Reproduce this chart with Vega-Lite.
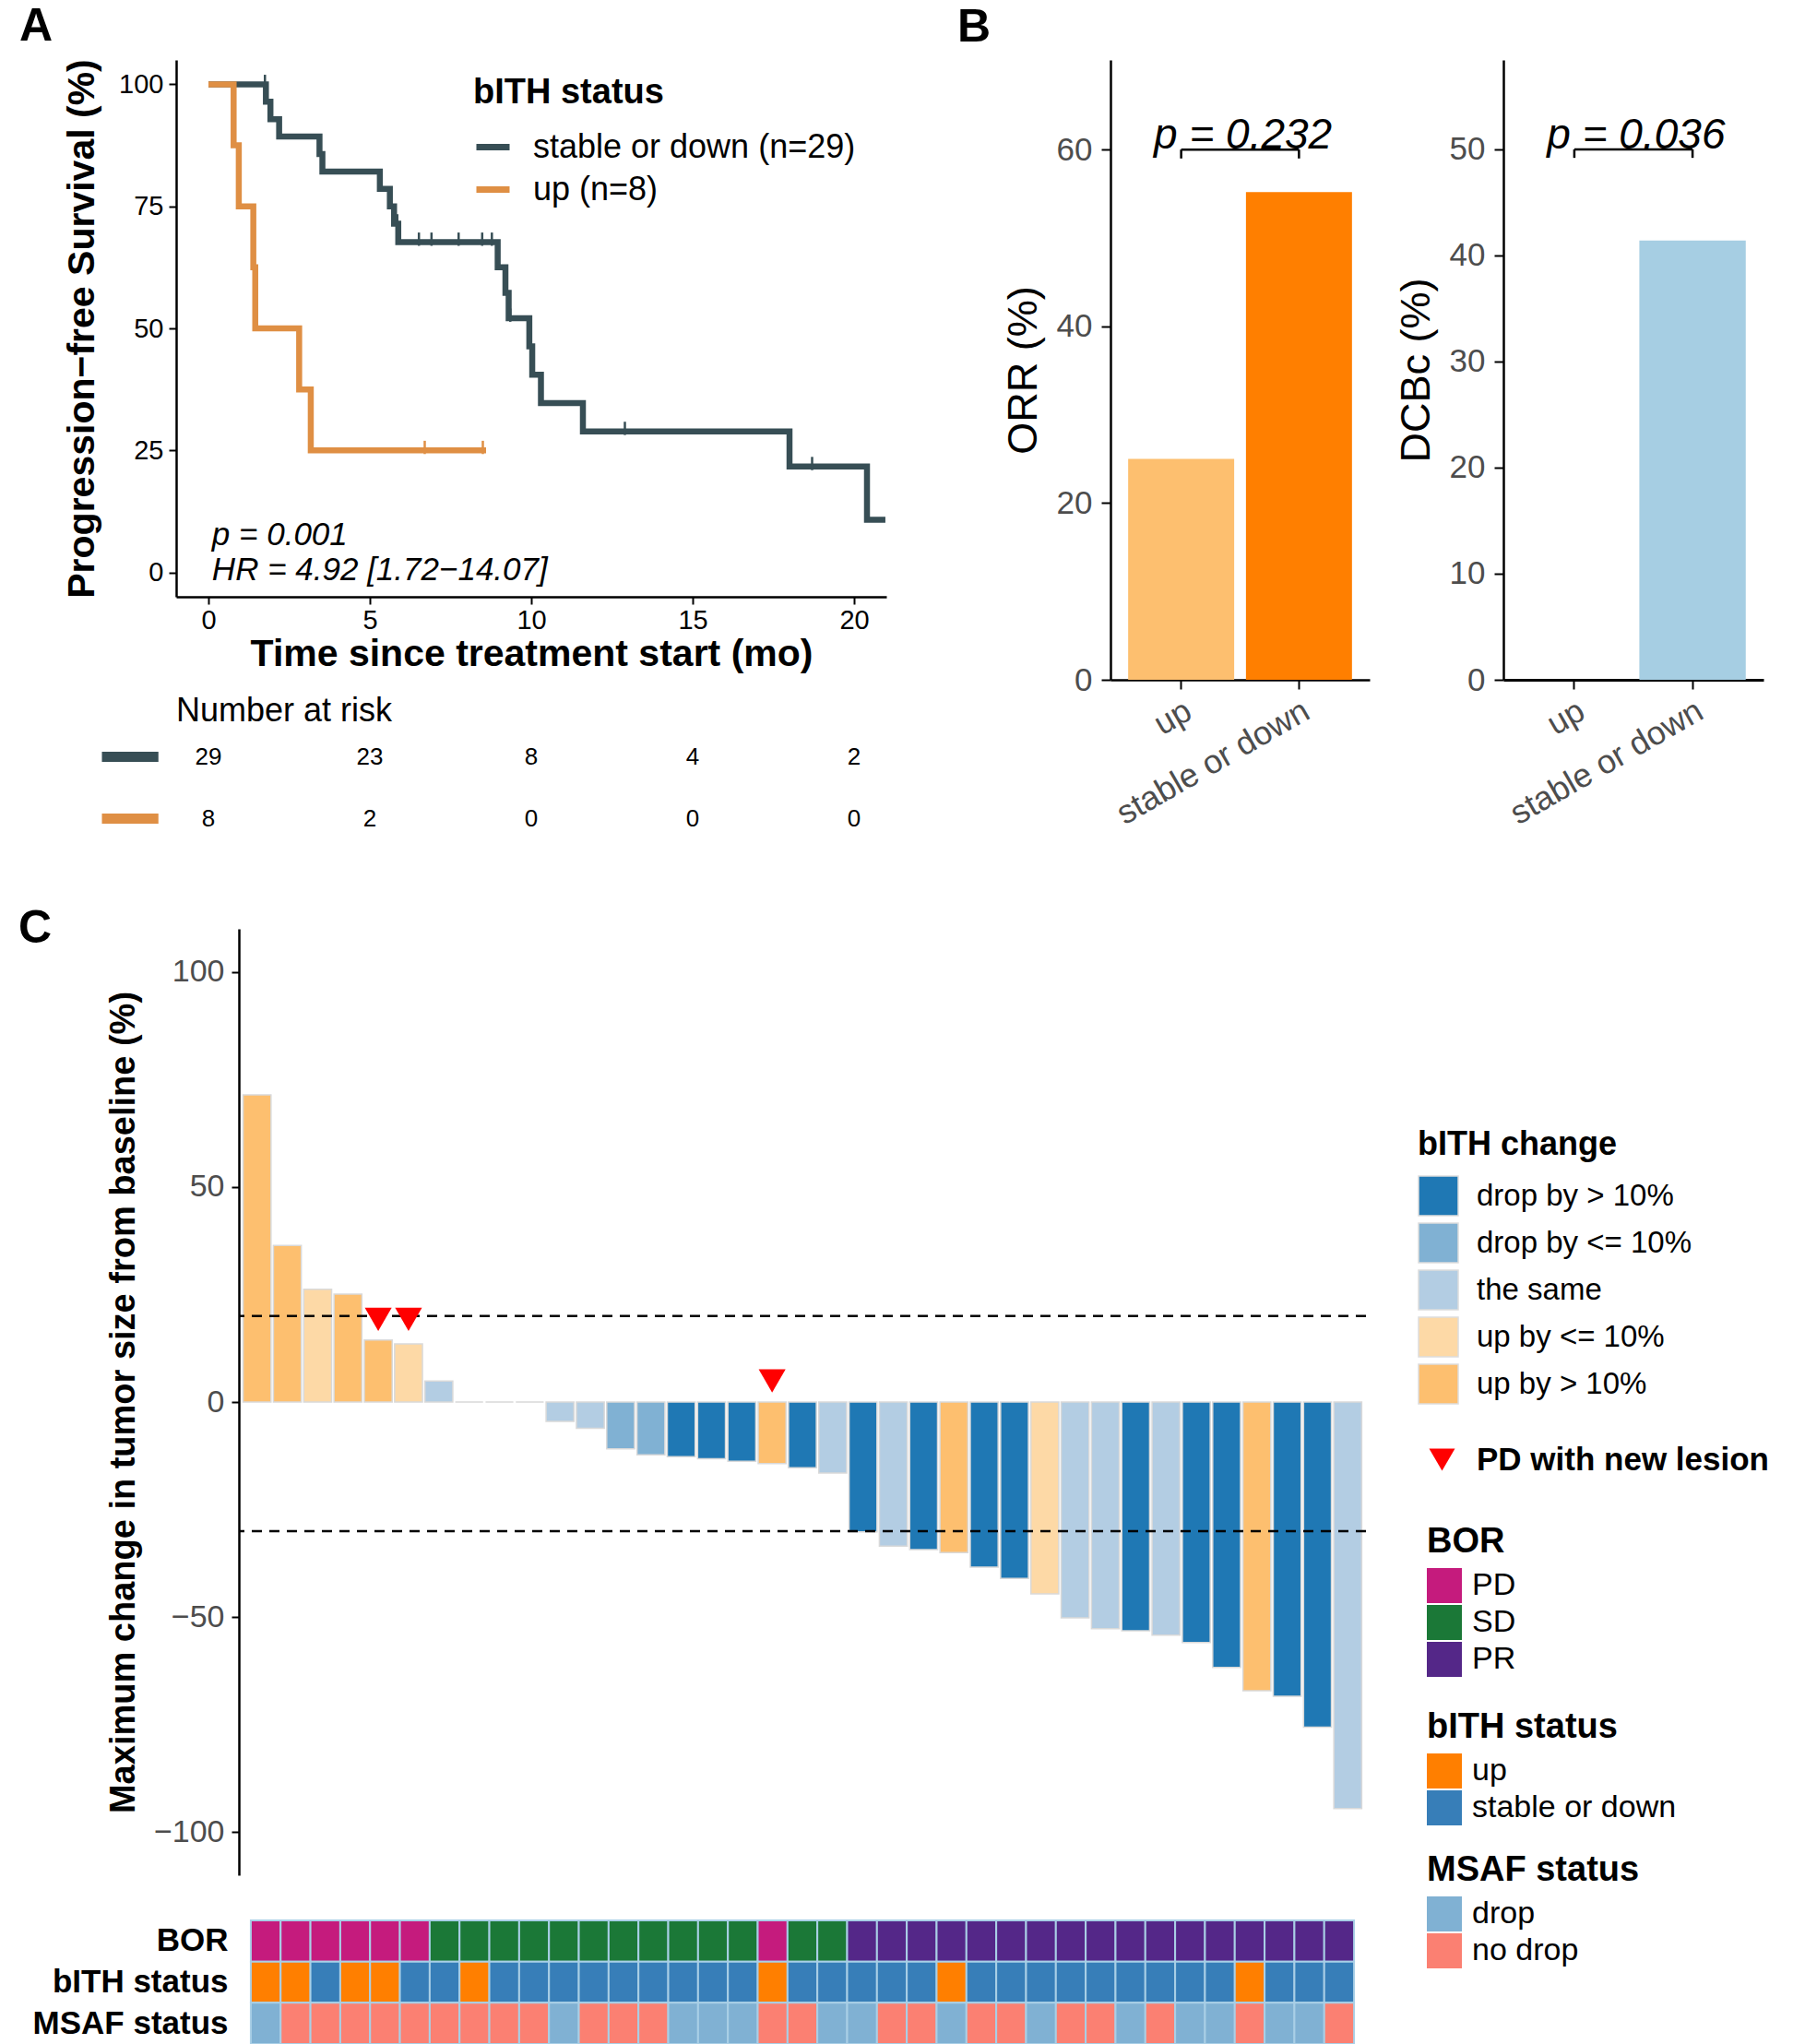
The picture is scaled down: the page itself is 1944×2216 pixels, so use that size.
{
  "$schema": "https://vega.github.io/schema/vega-lite/v6.json",
  "background": "white",
  "padding": {"left": 20, "top": 3, "right": 2, "bottom": 2},
  "config": {
    "font": "Liberation Sans",
    "view": {"stroke": null},
    "axis": {"grid": false, "domainColor": "#000000", "domainWidth": 2.2, "tickColor": "#000000", "tickWidth": 2, "labelColor": "#4D4D4D", "titleColor": "#000000", "titleFontWeight": "normal", "labelFont": "Liberation Sans", "titleFont": "Liberation Sans", "labelLimit": 1000},
    "legend": {"padding": 0, "labelColor": "#000000", "titleColor": "#000000", "labelFont": "Liberation Sans", "titleFont": "Liberation Sans", "labelLimit": 800, "titleLimit": 800},
    "title": {"font": "Liberation Sans", "color": "#000000"}
  },
  "datasets": {
    "km": [
      {"group": "stable or down (n=29)", "time": 0, "surv": 100},
      {"group": "stable or down (n=29)", "time": 1.78, "surv": 96.43},
      {"group": "stable or down (n=29)", "time": 1.92, "surv": 92.86},
      {"group": "stable or down (n=29)", "time": 2.19, "surv": 89.29},
      {"group": "stable or down (n=29)", "time": 3.44, "surv": 85.71},
      {"group": "stable or down (n=29)", "time": 3.53, "surv": 82.14},
      {"group": "stable or down (n=29)", "time": 5.31, "surv": 78.57},
      {"group": "stable or down (n=29)", "time": 5.62, "surv": 75.0},
      {"group": "stable or down (n=29)", "time": 5.75, "surv": 71.43},
      {"group": "stable or down (n=29)", "time": 5.88, "surv": 67.67},
      {"group": "stable or down (n=29)", "time": 8.96, "surv": 62.5},
      {"group": "stable or down (n=29)", "time": 9.2, "surv": 57.3},
      {"group": "stable or down (n=29)", "time": 9.3, "surv": 52.1},
      {"group": "stable or down (n=29)", "time": 9.94, "surv": 46.3},
      {"group": "stable or down (n=29)", "time": 10.03, "surv": 40.5},
      {"group": "stable or down (n=29)", "time": 10.3, "surv": 34.7},
      {"group": "stable or down (n=29)", "time": 11.6, "surv": 28.9},
      {"group": "stable or down (n=29)", "time": 18.0, "surv": 21.7},
      {"group": "stable or down (n=29)", "time": 20.4, "surv": 10.8},
      {"group": "stable or down (n=29)", "time": 20.97, "surv": 10.8},
      {"group": "up (n=8)", "time": 0, "surv": 100},
      {"group": "up (n=8)", "time": 0.78, "surv": 87.5},
      {"group": "up (n=8)", "time": 0.94, "surv": 75},
      {"group": "up (n=8)", "time": 1.39, "surv": 62.5},
      {"group": "up (n=8)", "time": 1.45, "surv": 50},
      {"group": "up (n=8)", "time": 2.81, "surv": 37.5},
      {"group": "up (n=8)", "time": 3.17, "surv": 25},
      {"group": "up (n=8)", "time": 8.6, "surv": 25}
    ],
    "censor": [
      {"group": "stable or down (n=29)", "time": 1.75, "surv": 100},
      {"group": "stable or down (n=29)", "time": 5.85, "surv": 71.43},
      {"group": "stable or down (n=29)", "time": 6.52, "surv": 67.67},
      {"group": "stable or down (n=29)", "time": 6.91, "surv": 67.67},
      {"group": "stable or down (n=29)", "time": 7.75, "surv": 67.67},
      {"group": "stable or down (n=29)", "time": 8.48, "surv": 67.67},
      {"group": "stable or down (n=29)", "time": 8.78, "surv": 67.67},
      {"group": "stable or down (n=29)", "time": 9.35, "surv": 52.1},
      {"group": "stable or down (n=29)", "time": 12.9, "surv": 28.9},
      {"group": "stable or down (n=29)", "time": 18.7, "surv": 21.7},
      {"group": "up (n=8)", "time": 6.7, "surv": 25},
      {"group": "up (n=8)", "time": 8.5, "surv": 25}
    ],
    "risk": [
      {"group": "stable or down (n=29)", "time": 0, "n": 29},
      {"group": "stable or down (n=29)", "time": 5, "n": 23},
      {"group": "stable or down (n=29)", "time": 10, "n": 8},
      {"group": "stable or down (n=29)", "time": 15, "n": 4},
      {"group": "stable or down (n=29)", "time": 20, "n": 2},
      {"group": "up (n=8)", "time": 0, "n": 8},
      {"group": "up (n=8)", "time": 5, "n": 2},
      {"group": "up (n=8)", "time": 10, "n": 0},
      {"group": "up (n=8)", "time": 15, "n": 0},
      {"group": "up (n=8)", "time": 20, "n": 0}
    ],
    "riskgroups": [
      {"group": "stable or down (n=29)"},
      {"group": "up (n=8)"}
    ],
    "orr": [
      {"bith": "up", "value": 25.0},
      {"bith": "stable or down", "value": 55.2}
    ],
    "dcb": [
      {"bith": "up", "value": 0},
      {"bith": "stable or down", "value": 41.4}
    ],
    "orr_test": [{"a": "up", "b": "stable or down", "label": "p = 0.232"}],
    "dcb_test": [{"a": "up", "b": "stable or down", "label": "p = 0.036"}],
    "km_p": [{"label": "p = 0.001"}],
    "km_hr": [{"label": "HR = 4.92 [1.72−14.07]"}],
    "cutoffs": [{"y": 20}, {"y": -30}],
    "lesion": [
      {"id": 5, "y": 19.2, "marker": "PD with new lesion"},
      {"id": 6, "y": 19.2, "marker": "PD with new lesion"},
      {"id": 18, "y": 4.9, "marker": "PD with new lesion"}
    ],
    "patients": [
      {"id": 1, "change": 71.4, "bith_change": "up by > 10%", "BOR": "PD", "bITH status": "up", "MSAF status": "drop"},
      {"id": 2, "change": 36.4, "bith_change": "up by > 10%", "BOR": "PD", "bITH status": "up", "MSAF status": "no drop"},
      {"id": 3, "change": 26.2, "bith_change": "up by <= 10%", "BOR": "PD", "bITH status": "stable or down", "MSAF status": "no drop"},
      {"id": 4, "change": 25.1, "bith_change": "up by > 10%", "BOR": "PD", "bITH status": "up", "MSAF status": "no drop"},
      {"id": 5, "change": 14.4, "bith_change": "up by > 10%", "BOR": "PD", "bITH status": "up", "MSAF status": "no drop"},
      {"id": 6, "change": 13.5, "bith_change": "up by <= 10%", "BOR": "PD", "bITH status": "stable or down", "MSAF status": "no drop"},
      {"id": 7, "change": 4.9, "bith_change": "the same", "BOR": "SD", "bITH status": "stable or down", "MSAF status": "no drop"},
      {"id": 8, "change": 0, "bith_change": "up by > 10%", "BOR": "SD", "bITH status": "up", "MSAF status": "no drop"},
      {"id": 9, "change": 0, "bith_change": "the same", "BOR": "SD", "bITH status": "stable or down", "MSAF status": "no drop"},
      {"id": 10, "change": 0, "bith_change": "the same", "BOR": "SD", "bITH status": "stable or down", "MSAF status": "no drop"},
      {"id": 11, "change": -4.5, "bith_change": "the same", "BOR": "SD", "bITH status": "stable or down", "MSAF status": "drop"},
      {"id": 12, "change": -6.1, "bith_change": "the same", "BOR": "SD", "bITH status": "stable or down", "MSAF status": "no drop"},
      {"id": 13, "change": -10.9, "bith_change": "drop by <= 10%", "BOR": "SD", "bITH status": "stable or down", "MSAF status": "no drop"},
      {"id": 14, "change": -12.3, "bith_change": "drop by <= 10%", "BOR": "SD", "bITH status": "stable or down", "MSAF status": "no drop"},
      {"id": 15, "change": -12.7, "bith_change": "drop by > 10%", "BOR": "SD", "bITH status": "stable or down", "MSAF status": "drop"},
      {"id": 16, "change": -13.2, "bith_change": "drop by > 10%", "BOR": "SD", "bITH status": "stable or down", "MSAF status": "drop"},
      {"id": 17, "change": -13.8, "bith_change": "drop by > 10%", "BOR": "SD", "bITH status": "stable or down", "MSAF status": "drop"},
      {"id": 18, "change": -14.3, "bith_change": "up by > 10%", "BOR": "PD", "bITH status": "up", "MSAF status": "no drop"},
      {"id": 19, "change": -15.3, "bith_change": "drop by > 10%", "BOR": "SD", "bITH status": "stable or down", "MSAF status": "no drop"},
      {"id": 20, "change": -16.5, "bith_change": "the same", "BOR": "SD", "bITH status": "stable or down", "MSAF status": "drop"},
      {"id": 21, "change": -30.2, "bith_change": "drop by > 10%", "BOR": "PR", "bITH status": "stable or down", "MSAF status": "drop"},
      {"id": 22, "change": -33.5, "bith_change": "the same", "BOR": "PR", "bITH status": "stable or down", "MSAF status": "no drop"},
      {"id": 23, "change": -34.3, "bith_change": "drop by > 10%", "BOR": "PR", "bITH status": "stable or down", "MSAF status": "no drop"},
      {"id": 24, "change": -35.0, "bith_change": "up by > 10%", "BOR": "PR", "bITH status": "up", "MSAF status": "drop"},
      {"id": 25, "change": -38.4, "bith_change": "drop by > 10%", "BOR": "PR", "bITH status": "stable or down", "MSAF status": "no drop"},
      {"id": 26, "change": -41.0, "bith_change": "drop by > 10%", "BOR": "PR", "bITH status": "stable or down", "MSAF status": "no drop"},
      {"id": 27, "change": -44.6, "bith_change": "up by <= 10%", "BOR": "PR", "bITH status": "stable or down", "MSAF status": "drop"},
      {"id": 28, "change": -50.2, "bith_change": "the same", "BOR": "PR", "bITH status": "stable or down", "MSAF status": "no drop"},
      {"id": 29, "change": -52.7, "bith_change": "the same", "BOR": "PR", "bITH status": "stable or down", "MSAF status": "no drop"},
      {"id": 30, "change": -53.2, "bith_change": "drop by > 10%", "BOR": "PR", "bITH status": "stable or down", "MSAF status": "drop"},
      {"id": 31, "change": -54.2, "bith_change": "the same", "BOR": "PR", "bITH status": "stable or down", "MSAF status": "no drop"},
      {"id": 32, "change": -55.9, "bith_change": "drop by > 10%", "BOR": "PR", "bITH status": "stable or down", "MSAF status": "drop"},
      {"id": 33, "change": -61.7, "bith_change": "drop by > 10%", "BOR": "PR", "bITH status": "stable or down", "MSAF status": "drop"},
      {"id": 34, "change": -67.1, "bith_change": "up by > 10%", "BOR": "PR", "bITH status": "up", "MSAF status": "no drop"},
      {"id": 35, "change": -68.4, "bith_change": "drop by > 10%", "BOR": "PR", "bITH status": "stable or down", "MSAF status": "drop"},
      {"id": 36, "change": -75.6, "bith_change": "drop by > 10%", "BOR": "PR", "bITH status": "stable or down", "MSAF status": "drop"},
      {"id": 37, "change": -94.5, "bith_change": "the same", "BOR": "PR", "bITH status": "stable or down", "MSAF status": "no drop"}
    ]
  },
  "bounds": "full",
  "spacing": 60,
  "resolve": {"scale": {"color": "independent", "fill": "independent", "shape": "independent"}, "legend": {"color": "independent", "fill": "independent", "shape": "independent"}},
  "vconcat": [
    {
      "bounds": "full",
      "spacing": 65,
      "resolve": {"scale": {"color": "independent"}, "legend": {"color": "independent"}},
      "hconcat": [
        {
          "bounds": "flush",
          "spacing": 140,
          "resolve": {"scale": {"color": "independent"}, "legend": {"color": "independent"}},
          "vconcat": [
            {
              "width": 770,
              "height": 582,
              "title": {"text": "A", "anchor": "start", "frame": "group", "fontSize": 50, "fontWeight": "bold", "dx": -170, "offset": 10},
              "layer": [
                {
                  "data": {"name": "km"},
                  "mark": {"type": "line", "interpolate": "step-after", "strokeWidth": 6.5},
                  "encoding": {
                    "x": {"field": "time", "type": "quantitative", "title": "Time since treatment start (mo)",
                      "scale": {"domain": [-1, 21], "nice": false, "zero": false},
                      "axis": {"values": [0, 5, 10, 15, 20], "labelFontSize": 29, "labelColor": "#000000", "tickSize": 8, "labelPadding": 3, "titleFontSize": 41, "titleFontWeight": "bold", "titlePadding": 2, "domainWidth": 2.5}},
                    "y": {"field": "surv", "type": "quantitative", "title": "Progression−free Survival (%)",
                      "scale": {"domain": [-5, 105], "nice": false, "zero": false},
                      "axis": {"values": [0, 25, 50, 75, 100], "labelFontSize": 29, "labelColor": "#000000", "tickSize": 8, "labelPadding": 6, "titleFontSize": 41, "titleFontWeight": "bold", "titlePadding": 18, "domainWidth": 2.5}},
                    "color": {"field": "group", "type": "nominal",
                      "scale": {"domain": ["stable or down (n=29)", "up (n=8)"], "range": ["#374E55", "#DF8F44"]},
                      "legend": {"title": "bITH status", "orient": "none", "legendX": 322, "legendY": 17, "titleFontSize": 38, "titleFontWeight": "bold", "labelFontSize": 36, "symbolType": "stroke", "symbolStrokeWidth": 7, "symbolSize": 1296, "labelOffset": 22, "rowPadding": 6, "titlePadding": 18}}
                  }
                },
                {
                  "data": {"name": "censor"},
                  "mark": {"type": "point", "shape": "M0,-1.3L0,0.5", "filled": false, "size": 256, "strokeWidth": 2.5, "opacity": 1},
                  "encoding": {
                    "x": {"field": "time", "type": "quantitative"},
                    "y": {"field": "surv", "type": "quantitative"},
                    "color": {"field": "group", "type": "nominal"}
                  }
                },
                {
                  "data": {"name": "km_p"},
                  "mark": {"type": "text", "align": "left", "baseline": "middle", "fontStyle": "italic", "fontSize": 35, "color": "#000000"},
                  "encoding": {"x": {"datum": 0.11}, "y": {"datum": 7.6}, "text": {"field": "label"}}
                },
                {
                  "data": {"name": "km_hr"},
                  "mark": {"type": "text", "align": "left", "baseline": "middle", "fontStyle": "italic", "fontSize": 35, "color": "#000000"},
                  "encoding": {"x": {"datum": 0.11}, "y": {"datum": 0.4}, "text": {"field": "label"}}
                }
              ]
            },
            {
              "width": 770,
              "height": 134,
              "title": {"text": "Number at risk", "anchor": "start", "frame": "group", "fontSize": 36, "fontWeight": "normal", "offset": -3},
              "layer": [
                {
                  "data": {"name": "risk"},
                  "mark": {"type": "text", "fontSize": 26, "color": "#000000"},
                  "encoding": {
                    "x": {"field": "time", "type": "quantitative", "scale": {"domain": [-1, 21], "nice": false, "zero": false}, "axis": null},
                    "y": {"field": "group", "type": "nominal", "scale": {"domain": ["stable or down (n=29)", "up (n=8)"]}, "axis": null},
                    "text": {"field": "n", "type": "quantitative"}
                  }
                },
                {
                  "data": {"name": "riskgroups"},
                  "mark": {"type": "rule", "strokeWidth": 11, "strokeCap": "butt"},
                  "encoding": {
                    "x": {"datum": -3.3},
                    "x2": {"datum": -1.55},
                    "y": {"field": "group", "type": "nominal"},
                    "color": {"field": "group", "type": "nominal", "scale": {"domain": ["stable or down (n=29)", "up (n=8)"], "range": ["#374E55", "#DF8F44"]}, "legend": null}
                  }
                }
              ]
            }
          ]
        },
        {
          "bounds": "flush",
          "spacing": 145,
          "resolve": {"scale": {"color": "independent"}, "legend": {"color": "independent"}},
          "hconcat": [
            {
              "width": 281,
              "height": 672,
              "title": {"text": "B", "anchor": "start", "frame": "group", "fontSize": 50, "fontWeight": "bold", "dx": -166, "offset": 10},
              "layer": [
                {
                  "data": {"name": "orr"},
                  "mark": {"type": "bar"},
                  "encoding": {
                    "x": {"field": "bith", "type": "nominal", "title": null,
                      "scale": {"domain": ["up", "stable or down"], "paddingInner": 0.1, "paddingOuter": 0.15},
                      "axis": {"labelAngle": -30, "labelAlign": "right", "labelBaseline": "top", "labelFontSize": 36, "tickSize": 10, "labelPadding": 6, "domainWidth": 2.5}},
                    "y": {"field": "value", "type": "quantitative", "title": "ORR (%)",
                      "scale": {"domain": [0, 70.15], "nice": false},
                      "axis": {"values": [0, 20, 40, 60], "labelFontSize": 35, "titleFontSize": 45, "tickSize": 10, "labelPadding": 10, "titlePadding": 13, "domainWidth": 2.5}},
                    "color": {"field": "bith", "type": "nominal", "scale": {"domain": ["up", "stable or down"], "range": ["#FDBF6F", "#FF7F00"]}, "legend": null}
                  }
                },
                {
                  "data": {"name": "orr_test"},
                  "mark": {"type": "rule", "strokeWidth": 2.5, "color": "#000000"},
                  "encoding": {"x": {"field": "a", "type": "nominal"}, "x2": {"field": "b"}, "y": {"datum": 60}}
                },
                {
                  "data": {"name": "orr_test"},
                  "mark": {"type": "rule", "strokeWidth": 2.5, "color": "#000000"},
                  "encoding": {"x": {"field": "a", "type": "nominal"}, "y": {"datum": 60}, "y2": {"datum": 59.0}}
                },
                {
                  "data": {"name": "orr_test"},
                  "mark": {"type": "rule", "strokeWidth": 2.5, "color": "#000000"},
                  "encoding": {"x": {"field": "b", "type": "nominal"}, "y": {"datum": 60}, "y2": {"datum": 59.0}}
                },
                {
                  "data": {"name": "orr_test"},
                  "mark": {"type": "text", "fontSize": 46, "fontStyle": "italic", "align": "center", "baseline": "alphabetic", "dx": 67, "dy": -1, "color": "#000000"},
                  "encoding": {"x": {"field": "a", "type": "nominal"}, "y": {"datum": 60}, "text": {"field": "label"}}
                }
              ]
            },
            {
              "width": 282,
              "height": 672,
              "layer": [
                {
                  "data": {"name": "dcb"},
                  "mark": {"type": "bar"},
                  "encoding": {
                    "x": {"field": "bith", "type": "nominal", "title": null,
                      "scale": {"domain": ["up", "stable or down"], "paddingInner": 0.1, "paddingOuter": 0.15},
                      "axis": {"labelAngle": -30, "labelAlign": "right", "labelBaseline": "top", "labelFontSize": 36, "tickSize": 10, "labelPadding": 6, "domainWidth": 3.2}},
                    "y": {"field": "value", "type": "quantitative", "title": "DCBc (%)",
                      "scale": {"domain": [0, 58.43], "nice": false},
                      "axis": {"values": [0, 10, 20, 30, 40, 50], "labelFontSize": 35, "titleFontSize": 45, "tickSize": 10, "labelPadding": 10, "titlePadding": 13, "domainWidth": 2.5}},
                    "color": {"field": "bith", "type": "nominal", "scale": {"domain": ["up", "stable or down"], "range": ["#1F78B4", "#A6CEE3"]}, "legend": null}
                  }
                },
                {
                  "data": {"name": "dcb_test"},
                  "mark": {"type": "rule", "strokeWidth": 2.5, "color": "#000000"},
                  "encoding": {"x": {"field": "a", "type": "nominal"}, "x2": {"field": "b"}, "y": {"datum": 50}}
                },
                {
                  "data": {"name": "dcb_test"},
                  "mark": {"type": "rule", "strokeWidth": 2.5, "color": "#000000"},
                  "encoding": {"x": {"field": "a", "type": "nominal"}, "y": {"datum": 50}, "y2": {"datum": 49.2}}
                },
                {
                  "data": {"name": "dcb_test"},
                  "mark": {"type": "rule", "strokeWidth": 2.5, "color": "#000000"},
                  "encoding": {"x": {"field": "b", "type": "nominal"}, "y": {"datum": 50}, "y2": {"datum": 49.2}}
                },
                {
                  "data": {"name": "dcb_test"},
                  "mark": {"type": "text", "fontSize": 46, "fontStyle": "italic", "align": "center", "baseline": "alphabetic", "dx": 67, "dy": -1, "color": "#000000"},
                  "encoding": {"x": {"field": "a", "type": "nominal"}, "y": {"datum": 50}, "text": {"field": "label"}}
                }
              ]
            }
          ]
        }
      ]
    },
    {
      "bounds": "flush",
      "spacing": 67,
      "resolve": {"scale": {"fill": "independent", "shape": "independent"}, "legend": {"fill": "independent", "shape": "independent"}},
      "hconcat": [
        {
          "width": 1,
          "height": 1,
          "data": {"values": [{"k": 1}]},
          "mark": {"type": "point", "opacity": 0}
        },
        {
          "bounds": "flush",
          "spacing": 49,
          "resolve": {"scale": {"fill": "independent", "shape": "independent"}, "legend": {"fill": "independent", "shape": "independent"}},
          "vconcat": [
            {
              "width": 1222,
              "height": 1026,
              "title": {"text": "C", "anchor": "start", "frame": "group", "fontSize": 50, "fontWeight": "bold", "dx": -239, "offset": -24.5},
              "layer": [
                {
                  "data": {"name": "patients"},
                  "mark": {"type": "bar", "stroke": "#D9D9D9", "strokeWidth": 1.5},
                  "encoding": {
                    "x": {"field": "id", "type": "ordinal", "scale": {"paddingInner": 0.08, "paddingOuter": 0.14}, "axis": null},
                    "y": {"field": "change", "type": "quantitative", "title": "Maximum change in tumor size from baseline (%)",
                      "scale": {"domain": [-110, 110], "nice": false},
                      "axis": {"values": [-100, -50, 0, 50, 100], "labelFontSize": 34, "titleFontSize": 38, "titleFontWeight": "bold", "tickSize": 8, "labelPadding": 8, "titlePadding": 13, "domainWidth": 2.5}},
                    "fill": {"field": "bith_change", "type": "nominal",
                      "scale": {"domain": ["drop by > 10%", "drop by <= 10%", "the same", "up by <= 10%", "up by > 10%"], "range": ["#1F78B4", "#80B1D3", "#B3CDE3", "#FDD9A6", "#FDBF6F"]},
                      "legend": {"title": "bITH change", "orient": "none", "legendX": 1278, "legendY": 217, "titleFontSize": 36, "titleFontWeight": "bold", "labelFontSize": 33, "symbolType": "square", "symbolSize": 1849, "symbolStrokeColor": "#DDDDDD", "symbolStrokeWidth": 1.5, "rowPadding": 2, "titlePadding": 14, "labelOffset": 19}}
                  }
                },
                {
                  "data": {"name": "cutoffs"},
                  "mark": {"type": "rule", "strokeDash": [11, 8], "strokeWidth": 2.5, "color": "#000000"},
                  "encoding": {"y": {"field": "y", "type": "quantitative"}}
                },
                {
                  "data": {"name": "lesion"},
                  "mark": {"type": "point", "filled": true, "color": "#FF0000", "size": 850, "opacity": 1},
                  "encoding": {
                    "x": {"field": "id", "type": "ordinal"},
                    "y": {"field": "y", "type": "quantitative"},
                    "shape": {"field": "marker", "type": "nominal", "scale": {"domain": ["PD with new lesion"], "range": ["triangle-down"]},
                      "legend": {"title": null, "orient": "none", "legendX": 1287, "legendY": 558, "labelFontSize": 35, "labelFontWeight": "bold", "symbolSize": 784, "symbolFillColor": "#FF0000", "symbolStrokeColor": "#FF0000", "symbolStrokeWidth": 0, "labelOffset": 20}}
                  }
                }
              ]
            },
            {
              "width": 1222,
              "height": 134,
              "data": {"name": "patients"},
              "transform": [{"fold": ["BOR", "bITH status", "MSAF status"], "as": ["row", "value"]}],
              "encoding": {
                "x": {"field": "id", "type": "ordinal", "scale": {"paddingInner": 0, "paddingOuter": 0.4}, "axis": null},
                "y": {"field": "row", "type": "nominal", "title": null, "scale": {"domain": ["BOR", "bITH status", "MSAF status"], "paddingInner": 0, "paddingOuter": 0},
                  "axis": {"domain": false, "ticks": false, "labelFontSize": 35, "labelFontWeight": "bold", "labelColor": "#000000", "labelPadding": 12, "labelLimit": 1000}}
              },
              "layer": [
                {
                  "transform": [{"filter": "datum.row === 'BOR'"}],
                  "mark": {"type": "rect", "stroke": "#A9CFE6", "strokeWidth": 2},
                  "encoding": {
                    "fill": {"field": "value", "type": "nominal", "scale": {"domain": ["PD", "SD", "PR"], "range": ["#C51B7D", "#1B7837", "#542788"]},
                      "legend": {"title": "BOR", "orient": "none", "legendX": 1288, "legendY": -429, "titleFontSize": 38, "titleFontWeight": "bold", "labelFontSize": 34, "symbolType": "square", "symbolSize": 1444, "symbolStrokeWidth": 0, "rowPadding": 2, "titlePadding": 9, "labelOffset": 11}}
                  }
                },
                {
                  "transform": [{"filter": "datum.row === 'bITH status'"}],
                  "mark": {"type": "rect", "stroke": "#A9CFE6", "strokeWidth": 2},
                  "encoding": {
                    "fill": {"field": "value", "type": "nominal", "scale": {"domain": ["up", "stable or down"], "range": ["#FF7F00", "#377EB8"]},
                      "legend": {"title": "bITH status", "orient": "none", "legendX": 1288, "legendY": -228, "titleFontSize": 38, "titleFontWeight": "bold", "labelFontSize": 34, "symbolType": "square", "symbolSize": 1444, "symbolStrokeWidth": 0, "rowPadding": 2, "titlePadding": 9, "labelOffset": 11}}
                  }
                },
                {
                  "transform": [{"filter": "datum.row === 'MSAF status'"}],
                  "mark": {"type": "rect", "stroke": "#A9CFE6", "strokeWidth": 2},
                  "encoding": {
                    "fill": {"field": "value", "type": "nominal", "scale": {"domain": ["drop", "no drop"], "range": ["#80B1D3", "#FB8072"]},
                      "legend": {"title": "MSAF status", "orient": "none", "legendX": 1288, "legendY": -73, "titleFontSize": 38, "titleFontWeight": "bold", "labelFontSize": 34, "symbolType": "square", "symbolSize": 1444, "symbolStrokeWidth": 0, "rowPadding": 2, "titlePadding": 9, "labelOffset": 11}}
                  }
                }
              ],
              "resolve": {"scale": {"fill": "independent"}, "legend": {"fill": "independent"}}
            }
          ]
        }
      ]
    }
  ]
}
